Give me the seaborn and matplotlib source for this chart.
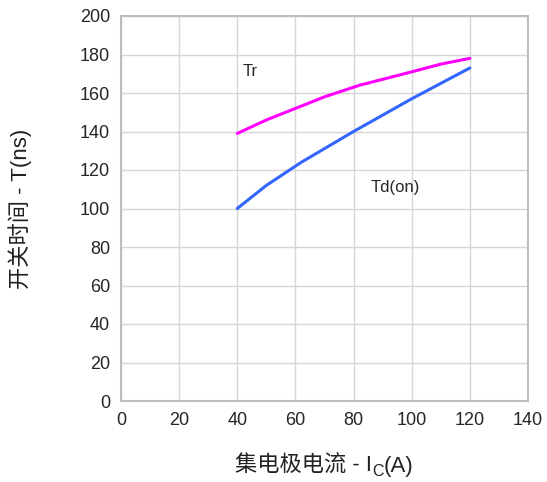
import numpy as np
import pandas as pd
import matplotlib
matplotlib.use('Agg')
import matplotlib.pyplot as plt
import seaborn as sns

# curve data
ic_tr = [40, 50, 60, 70, 82, 100, 110, 120]
t_tr = [139, 146, 152, 158, 164, 171, 175, 178]

ic_td = [40, 50, 62, 80, 100, 110, 120]
t_td = [100, 112, 124, 140, 157, 165, 173]

x_ticks = [0, 20, 40, 60, 80, 100, 120, 140]
y_ticks = [0, 20, 40, 60, 80, 100, 120, 140, 160, 180, 200]

df = pd.concat([
    pd.DataFrame({'Ic': ic_tr, 'T': t_tr, 'curve': 'Tr'}),
    pd.DataFrame({'Ic': ic_td, 'T': t_td, 'curve': 'Td(on)'}),
])

sns.set_style('white')
plt.rcParams['font.family'] = ['Liberation Sans', 'Noto Sans CJK SC', 'DejaVu Sans']

W, H = 547, 482
fig = plt.figure(figsize=(W / 100, H / 100), dpi=100)
ax = fig.add_axes([121 / W, 1 - 401 / H, 407 / W, 385 / H])

sns.lineplot(data=df, x='Ic', y='T', hue='curve', palette={'Tr': '#ff00ff', 'Td(on)': '#3366ff'},
             linewidth=2.2, legend=False, ax=ax, sort=True)

ax.set_xlim(0, 140)
ax.set_ylim(0, 200)
ax.set_xticks(x_ticks)
ax.set_yticks(y_ticks)
ax.tick_params(labelsize=13, length=0, pad=8)
ax.set_xlabel('')
ax.grid(True, color='#d6d6d6', linewidth=1)
for s in ax.spines.values():
    s.set_color('#bdbdbd')
    s.set_linewidth(1.5)

ax.text(42, 171, 'Tr', fontsize=12, va='center', ha='left',
        bbox=dict(facecolor='white', edgecolor='none', pad=2))
ax.text(86, 111, 'Td(on)', fontsize=12, va='center', ha='left')

ax.set_ylabel('开关时间 - T(ns)', fontsize=16, labelpad=34, color='#222222')

# x label built from pieces so the CJK glyphs and the subscript both render
fig.canvas.draw()
r = fig.canvas.get_renderer()
parts = [('集电极电流 - I', 16, 0), ('C', 11.5, -4), ('(A)', 16, 0)]
texts = []
for s, fs, dy in parts:
    t = fig.text(0, 0, s, fontsize=fs, va='baseline', ha='left', color='#222222')
    texts.append((t, dy))
widths = [t.get_window_extent(r).width for t, _ in texts]
x = 324.5 - sum(widths) / 2
base = H - 472
for (t, dy), w in zip(texts, widths):
    t.set_position((x / W, (base + dy) / H))
    x += w

fig.savefig('out.png', dpi=100)
